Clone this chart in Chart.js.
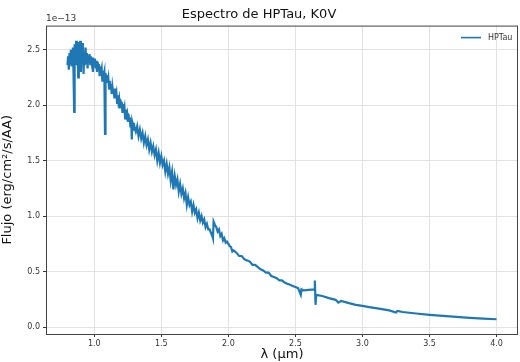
<!DOCTYPE html>
<html>
<head>
<meta charset="utf-8">
<script src="https://cdn.jsdelivr.net/npm/chart.js@4/dist/chart.umd.min.js"></script>
<style>
  body { margin: 0; background: #fff; }
  canvas { display: block; }
</style>
</head>
<body>
<canvas id="specChart" width="520" height="362"></canvas>
<script>
// wavelength in micron, flux in units of 1e-13 erg/cm2/s/AA
const wavelength = [
  0.800, 0.805, 0.810, 0.815, 0.820, 0.825, 0.830, 0.835, 0.840, 0.845,
  0.850, 0.852, 0.855, 0.860, 0.865, 0.870, 0.875, 0.880, 0.885, 0.890,
  0.895, 0.900, 0.905, 0.910, 0.915, 0.920, 0.925, 0.930, 0.935, 0.940,
  0.945, 0.950, 0.955, 0.960, 0.965, 0.970, 0.975, 0.980, 0.985, 0.990,
  0.995, 1.000, 1.005, 1.010, 1.015, 1.020, 1.025, 1.030, 1.035, 1.040,
  1.045, 1.050, 1.055, 1.060, 1.065, 1.070, 1.075, 1.080, 1.083, 1.085,
  1.090, 1.095, 1.100, 1.105, 1.110, 1.115, 1.120, 1.125, 1.130, 1.135,
  1.140, 1.145, 1.150, 1.155, 1.160, 1.165, 1.170, 1.175, 1.180, 1.185,
  1.190, 1.195, 1.200, 1.205, 1.210, 1.215, 1.220, 1.225, 1.230, 1.235,
  1.240, 1.245, 1.250, 1.255, 1.260, 1.265, 1.270, 1.275, 1.280, 1.283,
  1.285, 1.290, 1.295, 1.300, 1.310, 1.320, 1.330, 1.340, 1.350, 1.360,
  1.370, 1.380, 1.390, 1.400, 1.410, 1.420, 1.430, 1.440, 1.450, 1.460,
  1.470, 1.480, 1.490, 1.500, 1.510, 1.520, 1.530, 1.540, 1.550, 1.560,
  1.570, 1.580, 1.590, 1.600, 1.610, 1.620, 1.630, 1.640, 1.650, 1.660,
  1.670, 1.680, 1.690, 1.700, 1.710, 1.720, 1.730, 1.740, 1.750, 1.760,
  1.770, 1.780, 1.790, 1.800, 1.810, 1.820, 1.830, 1.840, 1.850, 1.860,
  1.870, 1.880, 1.885, 1.890, 1.900, 1.910, 1.920, 1.930, 1.940, 1.950,
  1.960, 1.970, 1.980, 1.990, 2.000, 2.010, 2.020, 2.030, 2.040, 2.060,
  2.080, 2.100, 2.120, 2.140, 2.160, 2.180, 2.200, 2.220, 2.240, 2.260,
  2.280, 2.300, 2.320, 2.340, 2.360, 2.380, 2.400, 2.420, 2.440, 2.460,
  2.480, 2.500, 2.520, 2.540, 2.545, 2.560, 2.640, 2.645, 2.650, 2.655,
  2.700, 2.750, 2.800, 2.820, 2.840, 2.900, 2.950, 3.000, 3.050, 3.100,
  3.200, 3.250, 3.260, 3.300, 3.400, 3.500, 3.600, 3.700, 3.800, 3.900,
  4.000
];
const flux = [
  2.36, 2.44, 2.32, 2.47, 2.38, 2.50, 2.35, 2.45, 2.52, 2.30,
  1.94, 2.40, 2.55, 2.42, 2.58, 2.36, 2.52, 2.25, 2.57, 2.46,
  2.58, 2.30, 2.50, 2.40, 2.56, 2.28, 2.48, 2.36, 2.52, 2.38,
  2.47, 2.33, 2.45, 2.40, 2.46, 2.37, 2.44, 2.39, 2.43, 2.30,
  2.42, 2.38, 2.42, 2.33, 2.40, 2.30, 2.39, 2.34, 2.37, 2.26,
  2.35, 2.30, 2.33, 2.22, 2.31, 2.27, 2.30, 1.74, 2.26, 2.29,
  2.21, 2.27, 2.20, 2.24, 2.15, 2.22, 2.14, 2.19, 2.10, 2.17,
  2.12, 2.14, 2.06, 2.15, 2.08, 2.11, 2.02, 2.09, 2.03, 2.06,
  1.97, 2.05, 2.00, 2.03, 1.93, 2.01, 1.95, 1.98, 1.88, 1.96,
  1.91, 1.93, 1.85, 1.92, 1.86, 1.89, 1.80, 1.87, 1.69, 1.85,
  1.84, 1.78, 1.84, 1.80, 1.76, 1.81, 1.72, 1.78, 1.70, 1.75,
  1.66, 1.72, 1.64, 1.69, 1.60, 1.66, 1.58, 1.63, 1.55, 1.60,
  1.50, 1.57, 1.48, 1.54, 1.46, 1.50, 1.40, 1.47, 1.38, 1.44,
  1.32, 1.40, 1.24, 1.36, 1.28, 1.33, 1.22, 1.29, 1.20, 1.25,
  1.16, 1.21, 1.10, 1.17, 1.10, 1.13, 1.04, 1.10, 1.03, 1.06,
  0.98, 1.03, 0.96, 1.00, 0.94, 0.97, 0.90, 0.93, 0.88, 0.88,
  0.85, 0.82, 0.80, 0.95, 0.92, 0.90, 0.86, 0.88, 0.82, 0.84,
  0.78, 0.80, 0.76, 0.77, 0.75, 0.73, 0.72, 0.68, 0.69, 0.67,
  0.64, 0.64, 0.61, 0.60, 0.59, 0.56, 0.56, 0.54, 0.52, 0.51,
  0.49, 0.49, 0.46, 0.45, 0.44, 0.42, 0.42, 0.40, 0.39, 0.38,
  0.37, 0.36, 0.35, 0.29, 0.34, 0.33, 0.34, 0.42, 0.20, 0.29,
  0.28, 0.26, 0.245, 0.22, 0.235, 0.215, 0.20, 0.19, 0.18, 0.17,
  0.15, 0.13, 0.145, 0.135, 0.122, 0.11, 0.10, 0.092, 0.083, 0.076,
  0.07
];
const xTicks = [1.0, 1.5, 2.0, 2.5, 3.0, 3.5, 4.0];
const yTicks = [0.0, 0.5, 1.0, 1.5, 2.0, 2.5];

const points = wavelength.map((w, i) => ({ x: w, y: flux[i] }));
const font = 'DejaVu Sans';
const lineColor = '#1f77b4';

// axes frame, offset text and the legend inside the plot
const framePlugin = {
  id: 'frame',
  afterDraw(chart) {
    const { ctx, chartArea: a } = chart;
    ctx.save();
    ctx.strokeStyle = '#444';
    ctx.lineWidth = 1;
    ctx.strokeRect(a.left + 0.5, a.top + 0.5, a.right - a.left - 1, a.bottom - a.top);
    ctx.fillStyle = '#333';
    ctx.font = '9px ' + font;
    ctx.textAlign = 'left';
    ctx.textBaseline = 'bottom';
    ctx.fillText('1e\u221213', a.left, a.top - 2);

    const ly = a.top + 12;
    ctx.strokeStyle = lineColor;
    ctx.lineWidth = 1.6;
    ctx.beginPath();
    ctx.moveTo(a.right - 57, ly);
    ctx.lineTo(a.right - 37, ly);
    ctx.stroke();
    ctx.fillStyle = '#333';
    ctx.font = '8px ' + font;
    ctx.textBaseline = 'middle';
    ctx.fillText(chart.data.datasets[0].label, a.right - 30, ly);
    ctx.restore();
  }
};

new Chart(document.getElementById('specChart'), {
  type: 'line',
  data: {
    datasets: [{
      label: 'HPTau',
      data: points,
      borderColor: lineColor,
      backgroundColor: lineColor,
      borderWidth: 2.2,
      pointRadius: 0,
      tension: 0,
      fill: false
    }]
  },
  options: {
    responsive: false,
    animation: false,
    devicePixelRatio: 1,
    layout: { padding: { top: 2, right: 2, left: 0, bottom: 0 } },
    plugins: {
      title: {
        display: true,
        text: 'Espectro de HPTau, K0V',
        color: '#111',
        font: { family: font, size: 13, weight: 'normal' },
        padding: { top: 5, bottom: 3 }
      },
      legend: { display: false },
      tooltip: { enabled: false }
    },
    scales: {
      x: {
        type: 'linear',
        min: 0.64,
        max: 4.16,
        afterBuildTicks: (s) => { s.ticks = xTicks.map(v => ({ value: v })); },
        afterFit: (s) => { s.height = 28; },
        ticks: {
          color: '#333',
          font: { family: font, size: 8 },
          padding: 2,
          maxRotation: 0,
          callback: (v) => v.toFixed(1)
        },
        grid: { color: '#e2e2e2', tickColor: '#333', tickLength: 3 },
        border: { display: false },
        title: {
          display: true,
          text: '\u03bb (\u03bcm)',
          color: '#111',
          font: { family: font, size: 13 },
          padding: { top: 0, bottom: 0 }
        }
      },
      y: {
        type: 'linear',
        min: -0.063,
        max: 2.717,
        afterBuildTicks: (s) => { s.ticks = yTicks.map(v => ({ value: v })); },
        afterFit: (s) => { s.width = 46; },
        ticks: {
          color: '#333',
          font: { family: font, size: 8 },
          padding: 3,
          callback: (v) => v.toFixed(1)
        },
        grid: { color: '#e2e2e2', tickColor: '#333', tickLength: 3 },
        border: { display: false },
        title: {
          display: true,
          text: 'Flujo (erg/cm\u00b2/s/AA)',
          color: '#111',
          font: { family: font, size: 13 },
          padding: { top: 0, bottom: 2 }
        }
      }
    }
  },
  plugins: [framePlugin]
});
</script>
</body>
</html>
